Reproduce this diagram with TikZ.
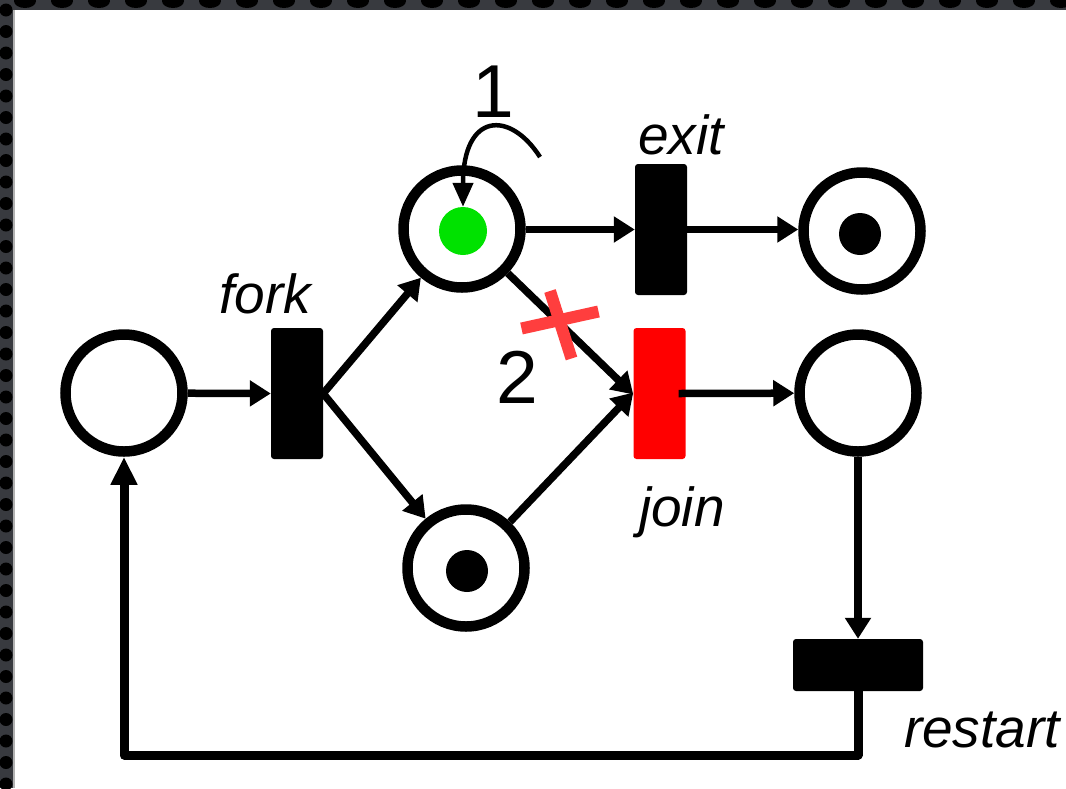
\documentclass[tikz,border=0pt]{standalone}
\usepackage{fontspec}
\setmainfont{Liberation Sans}
\usetikzlibrary{arrows.meta}
\definecolor{framegray}{RGB}{56,58,63}
\definecolor{tokgreen}{RGB}{0,226,0}
\definecolor{xred}{RGB}{255,62,62}
\begin{document}
\begin{tikzpicture}[x=1pt,y=-1pt,
  place/.style={circle,draw=black,line width=10.5pt,minimum size=117pt,inner sep=0pt,fill=white},
  trans/.style={fill=black,rounded corners=3pt,inner sep=0pt,minimum width=52pt,minimum height=131pt},
  htrans/.style={fill=black,rounded corners=3pt,inner sep=0pt,minimum width=130pt,minimum height=52pt},
  tokenb/.style={circle,fill=black,inner sep=0pt,minimum size=42pt},
  conn/.style={line width=7.5pt,-{Triangle[length=21pt,width=25pt]}},
  lbl/.style={font=\fontsize{55}{60}\selectfont\itshape,anchor=base,inner sep=0pt},
  num/.style={font=\fontsize{75}{80}\selectfont,anchor=base,inner sep=0pt}]
\useasboundingbox (0,0) rectangle (1066,788);
\fill[white] (0,0) rectangle (1066,788);
% frame
\fill[framegray] (0,0) rectangle (1066,10);
\fill[framegray] (0,0) rectangle (14,788);
\begin{scope}
\clip (0,0) rectangle (1066,10);
\foreach \i in {0,...,29} \fill[black] (25+37*\i,1) ellipse [x radius=11pt,y radius=7pt];
\end{scope}
\begin{scope}
\clip (0,0) rectangle (13,788);
\foreach \i in {0,...,37} \fill[black] (6,10+21.5*\i) circle (6.5pt);
\end{scope}
\fill[black!30] (13,10) rectangle (14.5,788);

% places
\node[place] (p0) at (124,393) {};
\node[place] (p1) at (462,229) {};
\node[place] (p2) at (466,568) {};
\node[place] (p3) at (862,231) {};
\node[place] (p4) at (858,393) {};
% tokens
\node[circle,fill=tokgreen,inner sep=0pt,minimum size=48pt] (g1) at (463,231) {};
\node[tokenb] (t2) at (467,571) {};
\node[tokenb] (t3) at (860,234) {};
% transitions
\node[trans] (fork) at (297,393.5) {};
\node[trans] (exit) at (661,229.5) {};
\node[trans,fill=red] (join) at (659.5,393.5) {};
\node[htrans] (restart) at (858,665) {};
% labels
\node[lbl] (lfork) at (265,313) {fork};
\node[lbl] (lexit) at (681,154) {exit};
\node[lbl] (ljoin) at (682,526) {join};
\node[lbl] (lrestart) at (982,747) {restart};
\node[num] (n1) at (493,117) {1};
\node[num] (n2) at (517,403) {2};

% connectors
\draw[conn] (p0) -- (fork.west);
\draw[conn] (fork.east) -- (p1);
\draw[conn] (fork.east) -- (p2);
\draw[conn] (p1.east |- exit.west) -- (exit.west);
\draw[conn] (exit.east) -- (p3.west |- exit.east);
\draw[conn] (p1) -- ([yshift=-1pt]join.west);
\draw[conn] (p2) -- ([yshift=1pt]join.west);
\draw[conn] ([xshift=-7pt]join.east) -- (p4);
\draw[conn] (p4) -- (restart.north);
\coordinate (c1) at (858,755);
\coordinate (c2) at (124,755);
\draw[line width=9pt,line join=round,-{Triangle[length=28pt,width=25pt]}] (restart.south) -- (c1) -- (c2) -- (p0.south);

% curved arrow from 1
\coordinate (cs) at (540,157);
\draw[line width=4.5pt,-{Triangle[length=24pt,width=20pt]}] (cs) .. controls (510,110) and (463,112) .. (g1.north);

% red cross
\draw[xred,line width=12pt] (521.5,328.5) -- (598.5,311.5);
\draw[xred,line width=12pt] (550,291) -- (571.5,358.5);
\end{tikzpicture}
\end{document}
